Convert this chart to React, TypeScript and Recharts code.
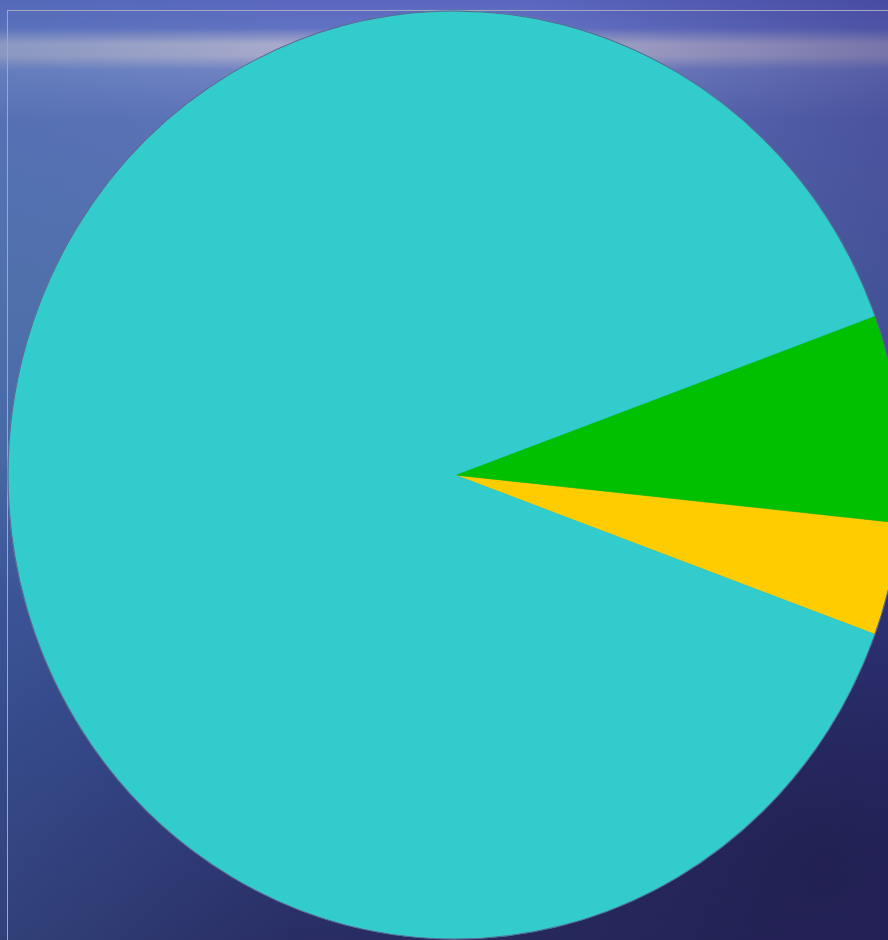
import React from "react";
import { PieChart, Pie, Cell } from "recharts";

const sliceNames = ["Slice C", "Slice B", "Slice A"];
const sliceValues = [3.93, 7.22, 88.85];
const sliceColors = ["#FFCC00", "#00C000", "#33CCCC"];

const outlineNames = ["Total"];
const outlineValues = [100];

const data = sliceNames.map((name, i) => ({ name, value: sliceValues[i] }));
const outlineData = outlineNames.map((name, i) => ({ name, value: outlineValues[i] }));

const W = 888;
const H = 940;
const SY = 464 / 447;
const CH = Math.round(H / SY);
const START = -20.08;

export default function App() {
  return (
    <div
      style={{
        position: "absolute",
        left: 0,
        top: 0,
        width: W,
        height: H,
        overflow: "hidden",
        background:
          "radial-gradient(ellipse 500px 420px at 820px 860px, rgba(30,28,70,0.7), rgba(30,28,70,0) 100%)," +
          "linear-gradient(90deg, rgba(70,110,170,0.3) 0px, rgba(70,100,170,0) 300px, rgba(50,40,130,0) 520px, rgba(45,35,120,0.4) 888px)," +
          "linear-gradient(180deg, #5a67bf 0px, #6272c2 28px, #a9abcb 44px, #a7a9cb 56px, #7284c4 70px, #5d72b8 120px, #5271ab 300px, #4867a4 450px, #37498e 600px, #2e3a7a 760px, #292d64 940px)",
      }}
    >
      <div
        style={{
          position: "absolute",
          left: 7,
          top: 10,
          width: 920,
          height: 960,
          borderTop: "1px solid #a4a6bc",
          borderLeft: "1px solid #a4a6bc",
          boxSizing: "border-box",
        }}
      />
      <div
        style={{
          position: "absolute",
          left: 0,
          top: 0,
          width: W,
          height: CH,
          transform: `scaleY(${SY})`,
          transformOrigin: "0 0",
        }}
      >
        <PieChart width={W} height={CH} margin={{ top: 0, right: 0, bottom: 0, left: 0 }}>
          <Pie
            data={data}
            dataKey="value"
            nameKey="name"
            cx={455}
            cy={475 / SY}
            outerRadius={447}
            innerRadius={0}
            startAngle={START}
            endAngle={START + 360}
            isAnimationActive={false}
          >
            {data.map((d, i) => (
              <Cell key={d.name} fill={sliceColors[i]} stroke={sliceColors[i]} strokeWidth={0.6} />
            ))}
          </Pie>
          <Pie
            data={outlineData}
            dataKey="value"
            nameKey="name"
            cx={455}
            cy={475 / SY}
            outerRadius={447}
            innerRadius={447}
            startAngle={0}
            endAngle={360}
            fill="none"
            stroke="#5b6890"
            strokeWidth={1}
            isAnimationActive={false}
          />
        </PieChart>
      </div>
    </div>
  );
}
